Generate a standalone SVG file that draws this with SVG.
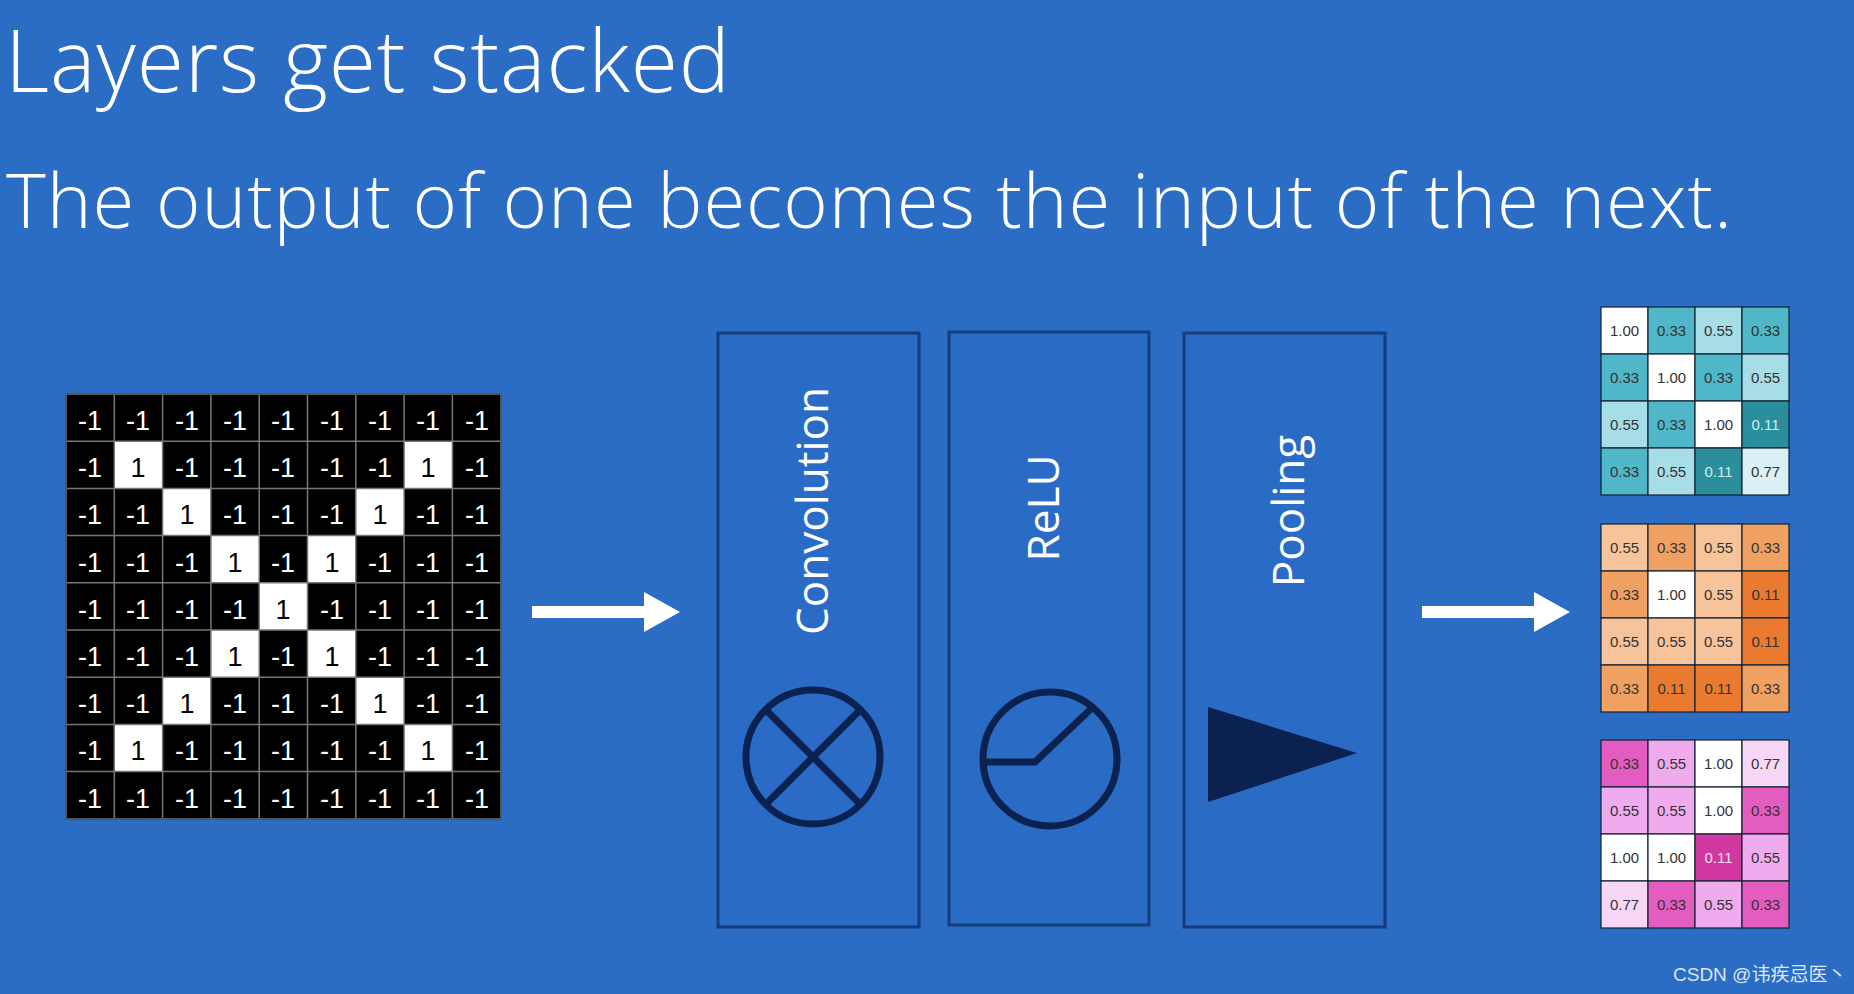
<svg xmlns="http://www.w3.org/2000/svg" width="1854" height="994" viewBox="0 0 1854 994">
<style>
.t{font-family:"Open Sans","Liberation Sans",sans-serif;font-weight:300;fill:#fff}
.g text{font-family:"Liberation Sans",sans-serif;font-size:27px;text-anchor:middle}
.k{fill:#000}.w{fill:#fff}
.r text{font-family:"Liberation Sans",sans-serif;font-size:15px;text-anchor:middle;fill:#333}
.r rect{stroke:#123;stroke-width:1.2}
.box{fill:#2a6bc6;stroke:#153d7e;stroke-width:3}
.lbl{font-family:"Open Sans","Liberation Sans",sans-serif;font-size:44px;fill:#fff;text-anchor:middle}
.ic{fill:none;stroke:#0b2150;stroke-width:7}
</style>
<rect width="1854" height="994" fill="#2b6cc5"/>
<text class="t" x="5" y="92" font-size="86" textLength="725">Layers get stacked</text>
<text class="t" x="6" y="228" font-size="76" textLength="1726">The output of one becomes the input of the next.</text>

<g id="input" class="g">
<rect x="66" y="394" width="435" height="425" fill="#000"/>
<g transform="translate(66,394)" fill="#fff">
<rect x="48.3" y="47.2" width="48.3" height="47.2"/><rect x="338.1" y="47.2" width="48.3" height="47.2"/>
<rect x="96.6" y="94.4" width="48.3" height="47.2"/><rect x="289.8" y="94.4" width="48.3" height="47.2"/>
<rect x="144.9" y="141.6" width="48.3" height="47.2"/><rect x="241.5" y="141.6" width="48.3" height="47.2"/>
<rect x="193.2" y="188.8" width="48.3" height="47.2"/>
<rect x="144.9" y="236" width="48.3" height="47.2"/><rect x="241.5" y="236" width="48.3" height="47.2"/>
<rect x="96.6" y="283.2" width="48.3" height="47.2"/><rect x="289.8" y="283.2" width="48.3" height="47.2"/>
<rect x="48.3" y="330.4" width="48.3" height="47.2"/><rect x="338.1" y="330.4" width="48.3" height="47.2"/>
<path fill="none" stroke="#777" stroke-width="1.5" d="M48.3,0V425M96.6,0V425M144.9,0V425M193.2,0V425M241.5,0V425M289.8,0V425M338.1,0V425M386.4,0V425M0,47.2H435M0,94.4H435M0,141.6H435M0,188.8H435M0,236H435M0,283.2H435M0,330.4H435M0,377.6H435"/>
<rect x="0" y="0" width="435" height="425" fill="none" stroke="#555" stroke-width="2"/>
</g>
<g transform="translate(66,394)">
<g>
<text x="24" y="36" class="w">-1</text><text x="72" y="36" class="w">-1</text><text x="121" y="36" class="w">-1</text><text x="169" y="36" class="w">-1</text><text x="217" y="36" class="w">-1</text><text x="266" y="36" class="w">-1</text><text x="314" y="36" class="w">-1</text><text x="362" y="36" class="w">-1</text><text x="411" y="36" class="w">-1</text>
</g>
<g transform="translate(0,47.2)">
<text x="24" y="36" class="w">-1</text><text x="72" y="36" class="k">1</text><text x="121" y="36" class="w">-1</text><text x="169" y="36" class="w">-1</text><text x="217" y="36" class="w">-1</text><text x="266" y="36" class="w">-1</text><text x="314" y="36" class="w">-1</text><text x="362" y="36" class="k">1</text><text x="411" y="36" class="w">-1</text>
</g>
<g transform="translate(0,94.4)">
<text x="24" y="36" class="w">-1</text><text x="72" y="36" class="w">-1</text><text x="121" y="36" class="k">1</text><text x="169" y="36" class="w">-1</text><text x="217" y="36" class="w">-1</text><text x="266" y="36" class="w">-1</text><text x="314" y="36" class="k">1</text><text x="362" y="36" class="w">-1</text><text x="411" y="36" class="w">-1</text>
</g>
<g transform="translate(0,141.6)">
<text x="24" y="36" class="w">-1</text><text x="72" y="36" class="w">-1</text><text x="121" y="36" class="w">-1</text><text x="169" y="36" class="k">1</text><text x="217" y="36" class="w">-1</text><text x="266" y="36" class="k">1</text><text x="314" y="36" class="w">-1</text><text x="362" y="36" class="w">-1</text><text x="411" y="36" class="w">-1</text>
</g>
<g transform="translate(0,188.8)">
<text x="24" y="36" class="w">-1</text><text x="72" y="36" class="w">-1</text><text x="121" y="36" class="w">-1</text><text x="169" y="36" class="w">-1</text><text x="217" y="36" class="k">1</text><text x="266" y="36" class="w">-1</text><text x="314" y="36" class="w">-1</text><text x="362" y="36" class="w">-1</text><text x="411" y="36" class="w">-1</text>
</g>
<g transform="translate(0,236)">
<text x="24" y="36" class="w">-1</text><text x="72" y="36" class="w">-1</text><text x="121" y="36" class="w">-1</text><text x="169" y="36" class="k">1</text><text x="217" y="36" class="w">-1</text><text x="266" y="36" class="k">1</text><text x="314" y="36" class="w">-1</text><text x="362" y="36" class="w">-1</text><text x="411" y="36" class="w">-1</text>
</g>
<g transform="translate(0,283.2)">
<text x="24" y="36" class="w">-1</text><text x="72" y="36" class="w">-1</text><text x="121" y="36" class="k">1</text><text x="169" y="36" class="w">-1</text><text x="217" y="36" class="w">-1</text><text x="266" y="36" class="w">-1</text><text x="314" y="36" class="k">1</text><text x="362" y="36" class="w">-1</text><text x="411" y="36" class="w">-1</text>
</g>
<g transform="translate(0,330.4)">
<text x="24" y="36" class="w">-1</text><text x="72" y="36" class="k">1</text><text x="121" y="36" class="w">-1</text><text x="169" y="36" class="w">-1</text><text x="217" y="36" class="w">-1</text><text x="266" y="36" class="w">-1</text><text x="314" y="36" class="w">-1</text><text x="362" y="36" class="k">1</text><text x="411" y="36" class="w">-1</text>
</g>
<g transform="translate(0,377.6)">
<text x="24" y="36" class="w">-1</text><text x="72" y="36" class="w">-1</text><text x="121" y="36" class="w">-1</text><text x="169" y="36" class="w">-1</text><text x="217" y="36" class="w">-1</text><text x="266" y="36" class="w">-1</text><text x="314" y="36" class="w">-1</text><text x="362" y="36" class="w">-1</text><text x="411" y="36" class="w">-1</text>
</g>
</g>
</g>

<g id="connectors" fill="#fff">
<path d="M532,606 H644 V592 L680,612 L644,632 V618 H532 Z"/>
<path d="M1422,606 H1534 V592 L1570,612 L1534,632 V618 H1422 Z"/>
</g>

<g id="conv">
<rect class="box" x="718" y="333" width="201" height="594"/>
<text class="lbl" transform="translate(828,511) rotate(-90)">Convolution</text>
<circle class="ic" cx="813" cy="757" r="67"/>
<path class="ic" d="M766,710 L860,804 M860,710 L766,804"/>
</g>
<g id="relu">
<rect class="box" x="949" y="332" width="200" height="593"/>
<text class="lbl" transform="translate(1059,508) rotate(-90)">ReLU</text>
<circle class="ic" cx="1050" cy="759" r="67"/>
<path class="ic" d="M985,762 H1035 L1094,706"/>
</g>
<g id="pool">
<rect class="box" x="1184" y="333" width="201" height="594"/>
<text class="lbl" transform="translate(1304,511) rotate(-90)">Pooling</text>
<path d="M1208,707 L1208,802 L1357,753 Z" fill="#0b2150"/>
</g>

<g id="out1" class="r" transform="translate(1601,307)">
<rect x="0" y="0" width="47" height="47" fill="#fff"/><rect x="47" y="0" width="47" height="47" fill="#4fb7c7"/><rect x="94" y="0" width="47" height="47" fill="#a6dde6"/><rect x="141" y="0" width="47" height="47" fill="#4fb7c7"/>
<rect x="0" y="47" width="47" height="47" fill="#4fb7c7"/><rect x="47" y="47" width="47" height="47" fill="#fff"/><rect x="94" y="47" width="47" height="47" fill="#4fb7c7"/><rect x="141" y="47" width="47" height="47" fill="#a6dde6"/>
<rect x="0" y="94" width="47" height="47" fill="#a6dde6"/><rect x="47" y="94" width="47" height="47" fill="#4fb7c7"/><rect x="94" y="94" width="47" height="47" fill="#fff"/><rect x="141" y="94" width="47" height="47" fill="#2a8e9c"/>
<rect x="0" y="141" width="47" height="47" fill="#4fb7c7"/><rect x="47" y="141" width="47" height="47" fill="#a6dde6"/><rect x="94" y="141" width="47" height="47" fill="#2a8e9c"/><rect x="141" y="141" width="47" height="47" fill="#d9f1f5"/>
<text x="23.5" y="29">1.00</text><text x="70.5" y="29">0.33</text><text x="117.5" y="29">0.55</text><text x="164.5" y="29">0.33</text>
<text x="23.5" y="76">0.33</text><text x="70.5" y="76">1.00</text><text x="117.5" y="76">0.33</text><text x="164.5" y="76">0.55</text>
<text x="23.5" y="123">0.55</text><text x="70.5" y="123">0.33</text><text x="117.5" y="123">1.00</text><text x="164.5" y="123" style="fill:#cdeef2">0.11</text>
<text x="23.5" y="170">0.33</text><text x="70.5" y="170">0.55</text><text x="117.5" y="170" style="fill:#cdeef2">0.11</text><text x="164.5" y="170">0.77</text>
</g>

<g id="out2" class="r" transform="translate(1601,524)">
<rect x="0" y="0" width="47" height="47" fill="#f6c39a"/><rect x="47" y="0" width="47" height="47" fill="#f0a060"/><rect x="94" y="0" width="47" height="47" fill="#f6c39a"/><rect x="141" y="0" width="47" height="47" fill="#f0a060"/>
<rect x="0" y="47" width="47" height="47" fill="#f0a060"/><rect x="47" y="47" width="47" height="47" fill="#fff"/><rect x="94" y="47" width="47" height="47" fill="#f6c39a"/><rect x="141" y="47" width="47" height="47" fill="#e97a30"/>
<rect x="0" y="94" width="47" height="47" fill="#f6c39a"/><rect x="47" y="94" width="47" height="47" fill="#f6c39a"/><rect x="94" y="94" width="47" height="47" fill="#f6c39a"/><rect x="141" y="94" width="47" height="47" fill="#e97a30"/>
<rect x="0" y="141" width="47" height="47" fill="#f0a060"/><rect x="47" y="141" width="47" height="47" fill="#e97a30"/><rect x="94" y="141" width="47" height="47" fill="#e97a30"/><rect x="141" y="141" width="47" height="47" fill="#f0a060"/>
<text x="23.5" y="29">0.55</text><text x="70.5" y="29">0.33</text><text x="117.5" y="29">0.55</text><text x="164.5" y="29">0.33</text>
<text x="23.5" y="76">0.33</text><text x="70.5" y="76">1.00</text><text x="117.5" y="76">0.55</text><text x="164.5" y="76">0.11</text>
<text x="23.5" y="123">0.55</text><text x="70.5" y="123">0.55</text><text x="117.5" y="123">0.55</text><text x="164.5" y="123">0.11</text>
<text x="23.5" y="170">0.33</text><text x="70.5" y="170">0.11</text><text x="117.5" y="170">0.11</text><text x="164.5" y="170">0.33</text>
</g>

<g id="out3" class="r" transform="translate(1601,740)">
<rect x="0" y="0" width="47" height="47" fill="#e35cc0"/><rect x="47" y="0" width="47" height="47" fill="#f0abef"/><rect x="94" y="0" width="47" height="47" fill="#fff"/><rect x="141" y="0" width="47" height="47" fill="#f8d7f6"/>
<rect x="0" y="47" width="47" height="47" fill="#f0abef"/><rect x="47" y="47" width="47" height="47" fill="#f0abef"/><rect x="94" y="47" width="47" height="47" fill="#fff"/><rect x="141" y="47" width="47" height="47" fill="#e35cc0"/>
<rect x="0" y="94" width="47" height="47" fill="#fff"/><rect x="47" y="94" width="47" height="47" fill="#fff"/><rect x="94" y="94" width="47" height="47" fill="#d0389f"/><rect x="141" y="94" width="47" height="47" fill="#f0abef"/>
<rect x="0" y="141" width="47" height="47" fill="#f8d7f6"/><rect x="47" y="141" width="47" height="47" fill="#e35cc0"/><rect x="94" y="141" width="47" height="47" fill="#f0abef"/><rect x="141" y="141" width="47" height="47" fill="#e35cc0"/>
<text x="23.5" y="29">0.33</text><text x="70.5" y="29">0.55</text><text x="117.5" y="29">1.00</text><text x="164.5" y="29">0.77</text>
<text x="23.5" y="76">0.55</text><text x="70.5" y="76">0.55</text><text x="117.5" y="76">1.00</text><text x="164.5" y="76">0.33</text>
<text x="23.5" y="123">1.00</text><text x="70.5" y="123">1.00</text><text x="117.5" y="123" style="fill:#fbe0f3">0.11</text><text x="164.5" y="123">0.55</text>
<text x="23.5" y="170">0.77</text><text x="70.5" y="170">0.33</text><text x="117.5" y="170">0.55</text><text x="164.5" y="170">0.33</text>
</g>

<text x="1673" y="981" font-family="'Liberation Sans','Noto Sans CJK SC',sans-serif" font-size="19" fill="#dde6f2">CSDN @讳疾忌医丶</text>
</svg>
